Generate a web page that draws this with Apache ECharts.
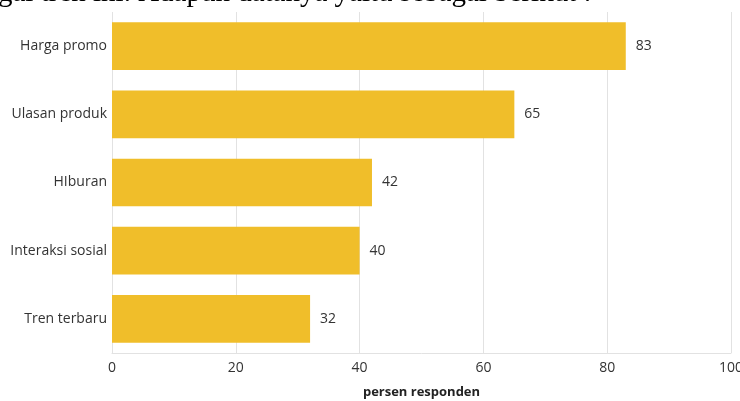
<!DOCTYPE html>
<html>
<head>
<meta charset="utf-8">
<script src="https://cdn.jsdelivr.net/npm/echarts@6/dist/echarts.min.js"></script>
<style>
  html, body { margin: 0; padding: 0; background: #fff; }
  #chart { width: 740px; height: 401px; }
</style>
</head>
<body>
<div id="chart"></div>
<script>
// data
var categories = ['Harga promo', 'Ulasan produk', 'HIburan', 'Interaksi sosial', 'Tren terbaru']
var values = [83, 65, 42, 40, 32]
var xTicks = [0, 20, 40, 60, 80, 100]
var axisName = 'persen responden'
var caption = 'gai tren ini. Adapun datanya yaitu sebagai berikut :'

var chart = echarts.init(document.getElementById('chart'))
chart.setOption({
  animation: false,
  textStyle: { fontFamily: 'Open Sans' },
  graphic: [{
    type: 'text',
    left: -2,
    top: -21,
    style: {
      text: caption,
      font: '29px "Liberation Serif"',
      fill: '#000'
    }
  }],
  grid: {
    left: 112,
    right: 9,
    top: 12,
    bottom: 48,
    outerBoundsMode: 'none'
  },
  xAxis: {
    type: 'value',
    min: xTicks[0],
    max: xTicks[xTicks.length - 1],
    interval: 20,
    name: axisName,
    nameLocation: 'middle',
    nameGap: 33,
    nameTextStyle: { color: '#222', fontSize: 13, fontWeight: 'bold' },
    axisLine: { show: true, lineStyle: { color: '#e2e2e2' } },
    axisTick: { show: false },
    axisLabel: { color: '#333', fontSize: 14, margin: 8 },
    splitLine: { lineStyle: { color: '#e2e2e2' } }
  },
  yAxis: {
    type: 'category',
    inverse: true,
    data: categories,
    axisLine: { show: false },
    axisTick: { show: false },
    axisLabel: { color: '#333', fontSize: 14, margin: 5 }
  },
  series: [{
    type: 'bar',
    data: values,
    barCategoryGap: '30%',
    itemStyle: { color: '#F0BE2A' },
    label: {
      show: true,
      position: 'right',
      distance: 10,
      color: '#333',
      fontSize: 14
    }
  }]
})
</script>
</body>
</html>
